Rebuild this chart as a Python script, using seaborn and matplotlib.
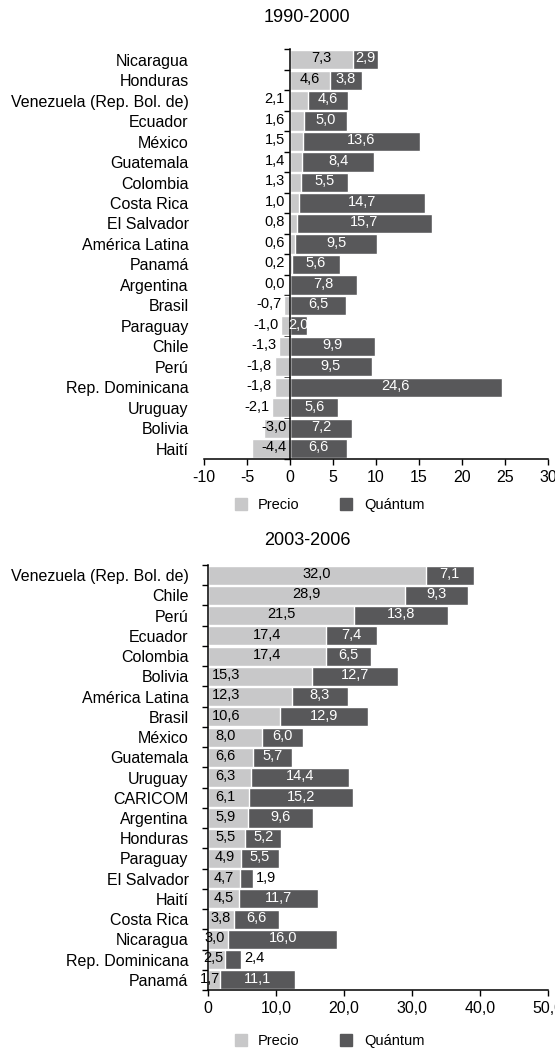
import numpy as np
import pandas as pd
import matplotlib
matplotlib.use("Agg")
import matplotlib.pyplot as plt
import seaborn as sns
from matplotlib.lines import Line2D
from matplotlib.ticker import FixedLocator

# --------------------------------------------------
# DATA
# --------------------------------------------------

paises_90 = [
    "Nicaragua", "Honduras", "Venezuela (Rep. Bol. de)", "Ecuador", "México",
    "Guatemala", "Colombia", "Costa Rica", "El Salvador", "América Latina",
    "Panamá", "Argentina", "Brasil", "Paraguay", "Chile", "Perú",
    "Rep. Dominicana", "Uruguay", "Bolivia", "Haití",
]
precio_90 = [7.3, 4.6, 2.1, 1.6, 1.5, 1.4, 1.3, 1.0, 0.8, 0.6,
             0.2, 0.0, -0.7, -1.0, -1.3, -1.8, -1.8, -2.1, -3.0, -4.4]
quantum_90 = [2.9, 3.8, 4.6, 5.0, 13.6, 8.4, 5.5, 14.7, 15.7, 9.5,
              5.6, 7.8, 6.5, 2.0, 9.9, 9.5, 24.6, 5.6, 7.2, 6.6]

paises_03 = [
    "Venezuela (Rep. Bol. de)", "Chile", "Perú", "Ecuador", "Colombia",
    "Bolivia", "América Latina", "Brasil", "México", "Guatemala", "Uruguay",
    "CARICOM", "Argentina", "Honduras", "Paraguay", "El Salvador", "Haití",
    "Costa Rica", "Nicaragua", "Rep. Dominicana", "Panamá",
]
precio_03 = [32.0, 28.9, 21.5, 17.4, 17.4, 15.3, 12.3, 10.6, 8.0, 6.6, 6.3,
             6.1, 5.9, 5.5, 4.9, 4.7, 4.5, 3.8, 3.0, 2.5, 1.7]
quantum_03 = [7.1, 9.3, 13.8, 7.4, 6.5, 12.7, 8.3, 12.9, 6.0, 5.7, 14.4,
              15.2, 9.6, 5.2, 5.5, 1.9, 11.7, 6.6, 16.0, 2.4, 11.1]

ticks_90 = [-10, -5, 0, 5, 10, 15, 20, 25, 30]
ticklabels_90 = ["-10", "-5", "0", "5", "10", "15", "20", "25", "30"]
ticks_03 = [0, 10, 20, 30, 40, 50]
ticklabels_03 = ["0", "10,0", "20,0", "30,0", "40,0", "50,0"]

# --------------------------------------------------
# STYLE
# --------------------------------------------------

LIGHT = "#c8c8c9"
DARK = "#58585a"

sns.set_style("white")
plt.rcParams["font.family"] = ["Liberation Sans", "DejaVu Sans"]
plt.rcParams["text.color"] = "black"
plt.rcParams["xtick.labelcolor"] = "black"
plt.rcParams["ytick.labelcolor"] = "black"


def fmt(v):
    return f"{v:.1f}".replace(".", ",")


def draw_panel(ax, paises, precio, quantum):

    df = pd.DataFrame({"pais": paises, "precio": precio, "quantum": quantum})
    df["fin"] = df["precio"].clip(lower=0) + df["quantum"]

    sns.barplot(data=df, x="fin", y="pais", orient="h", color=DARK,
                saturation=1, width=0.94, errorbar=None, ax=ax)
    sns.barplot(data=df, x="precio", y="pais", orient="h", color=LIGHT,
                saturation=1, width=0.94, errorbar=None, ax=ax)

    n = len(paises)
    ax.set_ylim(n - 0.5, -0.5)
    ax.set_xlabel("")
    ax.set_ylabel("")
    sns.despine(ax=ax)

    ax.yaxis.set_minor_locator(FixedLocator(np.arange(n + 1) - 0.5))
    ax.tick_params(axis="y", which="minor", left=True, length=4, width=1,
                   color="black")
    ax.tick_params(axis="x", bottom=True, length=4, width=1, color="black",
                   pad=4, labelsize=11.5, labelcolor="black")
    ax.tick_params(axis="y", labelcolor="black")
    ax.spines["left"].set_color("black")
    ax.spines["bottom"].set_color("black")
    ax.spines["left"].set_linewidth(1.1)
    ax.spines["bottom"].set_linewidth(1.1)
    return df


fig = plt.figure(figsize=(5.55, 10.5), dpi=100)

# --------------------------------------------------
# 1990-2000
# --------------------------------------------------

ax1 = fig.add_axes([0.3676, 0.5629, 0.6198, 0.390])
df1 = draw_panel(ax1, paises_90, precio_90, quantum_90)
ax1.set_xlim(-10, 30)
ax1.set_xticks(ticks_90)
ax1.set_xticklabels(ticklabels_90)
ax1.spines["left"].set_position(("data", 0))
ax1.spines["bottom"].set_bounds(-10, 30)
ax1.tick_params(axis="y", which="major", length=0, pad=73, labelsize=11.5)

for i, row in df1.iterrows():
    p, q = row["precio"], row["quantum"]
    yy = i - 0.06
    if p > 2.5:
        ax1.text(p / 2, yy, fmt(p), ha="center", va="center", fontsize=10.5)
    elif p >= 0:
        ax1.text(-0.6, yy, fmt(p), ha="right", va="center", fontsize=10.5)
    elif p > -2.5:
        ax1.text(p - 0.3, yy, fmt(p), ha="right", va="center", fontsize=10.5)
    else:
        ax1.text(-0.4, yy, fmt(p), ha="right", va="center", fontsize=10.5)
    ax1.text(max(p, 0) + q / 2, yy, fmt(q), ha="center", va="center",
             fontsize=10.5, color="white")

# --------------------------------------------------
# 2003-2006
# --------------------------------------------------

ax2 = fig.add_axes([0.3748, 0.0571, 0.6126, 0.4048])
df2 = draw_panel(ax2, paises_03, precio_03, quantum_03)
ax2.set_xlim(0, 50)
ax2.set_xticks(ticks_03)
ax2.set_xticklabels(ticklabels_03)
ax2.tick_params(axis="y", which="major", length=0, pad=14, labelsize=11.5)

for i, row in df2.iterrows():
    p, q = row["precio"], row["quantum"]
    yy = i - 0.06
    if p >= 17:
        xp = p / 2
    elif p > 3:
        xp = min(p / 2, 2.6)
    else:
        xp = p / 2 - 0.5
    ax2.text(xp, yy, fmt(p), ha="center", va="center", fontsize=10.5)
    if q < 3:
        ax2.text(p + q + 0.5, yy, fmt(q), ha="left", va="center", fontsize=10.5)
    else:
        ax2.text(p + q / 2, yy, fmt(q), ha="center", va="center",
                 fontsize=10.5, color="white")

# --------------------------------------------------
# TITLES / LEGENDS
# --------------------------------------------------

fig.text(0.553, 0.983, "1990-2000", ha="center", va="center", fontsize=13)
fig.text(0.553, 0.4857, "2003-2006", ha="center", va="center", fontsize=13)

handles = [
    Line2D([], [], marker="s", ls="", color=LIGHT, markersize=8, label="Precio"),
    Line2D([], [], marker="s", ls="", color=DARK, markersize=8, label="Quántum"),
]
for ypos in [0.519, 0.0085]:
    fig.legend(handles=handles, loc="center", bbox_to_anchor=(0.586, ypos),
               ncol=2, frameon=False, columnspacing=2.2, handletextpad=0.2,
               fontsize=10.5, borderpad=0)

fig.savefig("out.png", dpi=100)
